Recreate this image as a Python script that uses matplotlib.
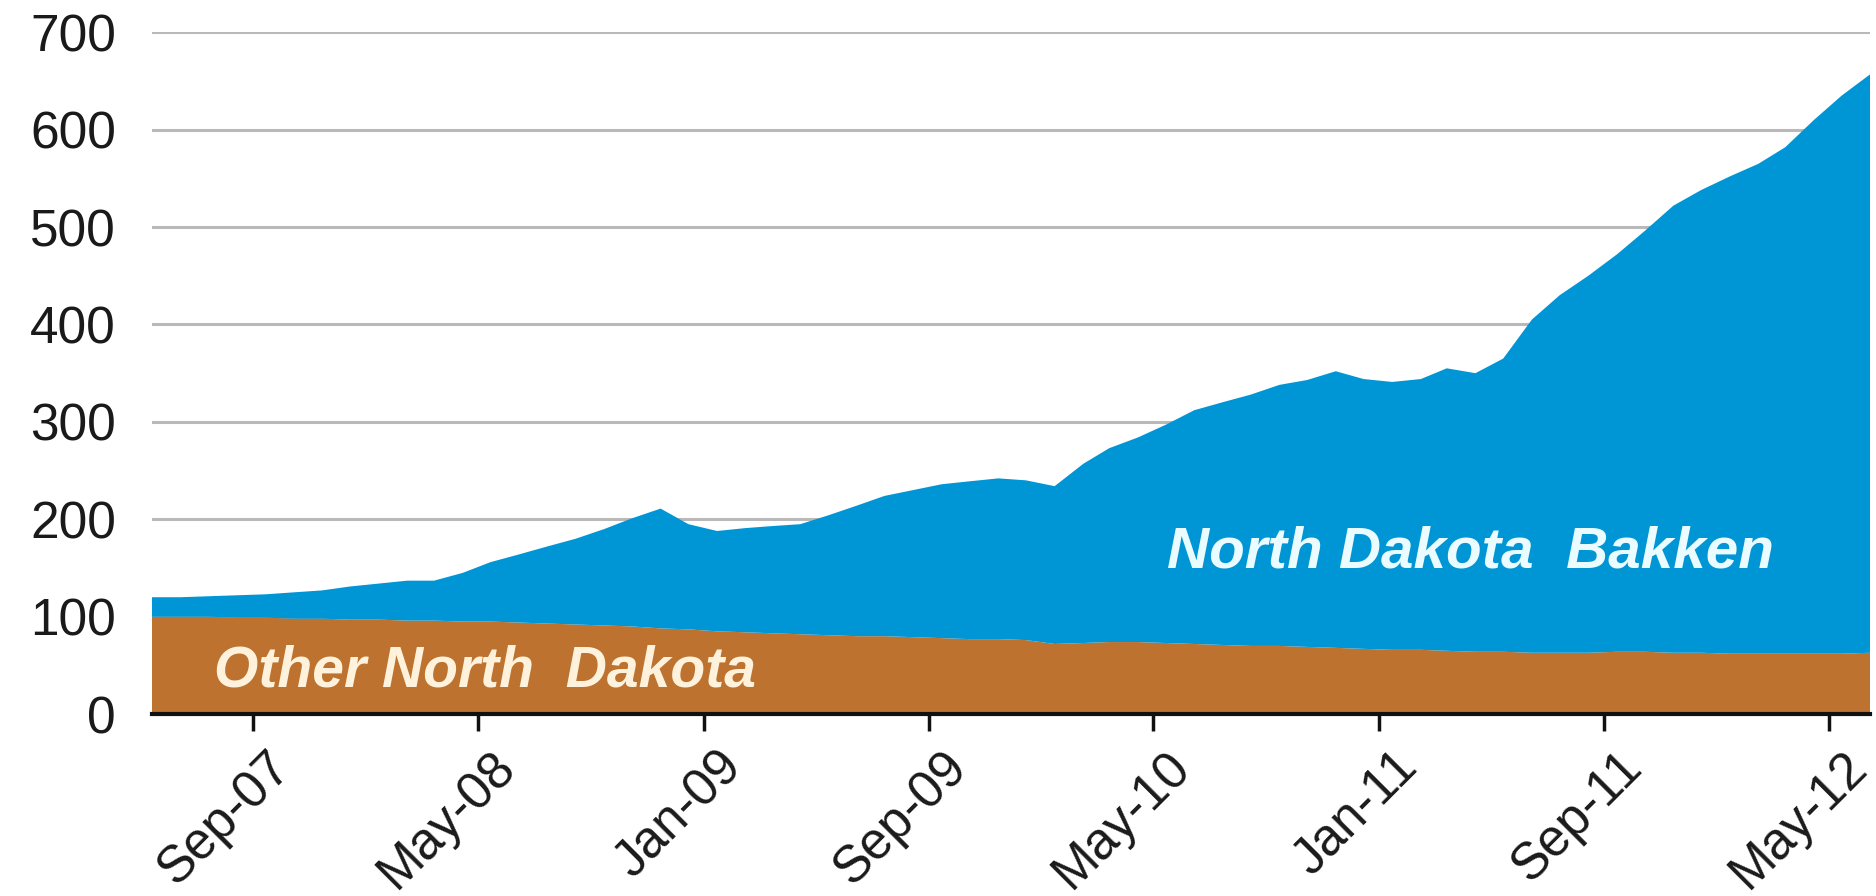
"""
North Dakota crude oil production, stacked area chart
(Other North Dakota vs. North Dakota Bakken), Jun-07 to Jun-12.
"""

import matplotlib
matplotlib.use("Agg")
import matplotlib.pyplot as plt
import matplotlib.transforms as mtransforms
import pandas as pd

# Monthly data (thousand barrels per day)
months = pd.date_range("2007-05-01", periods=62, freq="MS") + pd.Timedelta(days=14)

other_nd = [100, 100, 100, 99, 99, 98, 98, 97, 97, 96,
            96, 95, 95, 94, 93, 92, 91, 90, 88, 87,
            85, 84, 83, 82, 81, 80, 80, 79, 78, 77,
            77, 76, 72, 73, 74, 74, 73, 72, 71, 70,
            70, 69, 68, 67, 66, 66, 65, 64, 64, 63,
            63, 63, 64, 64, 63, 63, 62, 62, 62, 62,
            62, 63]

bakken = [20, 20, 21, 23, 24, 27, 29, 34, 37, 41,
          41, 50, 61, 70, 79, 88, 99, 111, 123, 108,
          103, 107, 110, 113, 123, 134, 144, 151, 158, 162,
          165, 164, 162, 184, 199, 210, 224, 240, 249, 258,
          268, 274, 284, 277, 275, 278, 290, 286, 301, 342,
          367, 387, 408, 432, 459, 475, 490, 503, 520, 548,
          573, 594]

tick_dates = pd.date_range("2007-09-01", "2012-05-01", freq="8MS")
y_ticks = [0, 100, 200, 300, 400, 500, 600, 700]

plt.rcParams["font.family"] = ["Liberation Sans", "DejaVu Sans"]

fig = plt.figure(figsize=(18.76, 8.96), dpi=100)
ax = fig.add_axes([0.081, 0.203, 0.916, 0.761])

# Garis grid di belakang area
ax.set_axisbelow(True)
ax.yaxis.grid(True, color="#b9b9b9", linewidth=2.2)

ax.stackplot(months, other_nd, bakken,
             colors=["#bd732f", "#0096d6"], linewidth=0)

ax.set_xlim(months[0], months[-1])
ax.set_ylim(0, 700)
ax.set_yticks(y_ticks)
ax.set_xticks(tick_dates)
ax.set_xticklabels([d.strftime("%b-%y") for d in tick_dates],
                   rotation=45, ha="right", va="top",
                   rotation_mode="anchor")

ax.tick_params(axis="y", length=0, pad=26, labelsize=37, labelcolor="#1a1a1a")
ax.tick_params(axis="x", length=12, width=2.5, color="#111111", pad=8,
               labelsize=37, labelcolor="#1a1a1a")

# Geser label sumbu x sedikit ke kanan
shift = mtransforms.ScaledTranslation(0.13, 0, fig.dpi_scale_trans)
for lbl in ax.get_xticklabels():
    lbl.set_transform(lbl.get_transform() + shift)

for side in ["left", "right", "top"]:
    ax.spines[side].set_visible(False)
ax.spines["bottom"].set_linewidth(3)
ax.spines["bottom"].set_color("#111111")

# Label seri di dalam area
ax.text(0.767, 0.237, "North Dakota  Bakken", transform=ax.transAxes,
        ha="center", va="center", fontsize=42, fontweight="bold",
        fontstyle="italic", color="#eafcff")
ax.text(0.194, 0.063, "Other North  Dakota", transform=ax.transAxes,
        ha="center", va="center", fontsize=41, fontweight="bold",
        fontstyle="italic", color="#fff2dc")

fig.savefig("out.png", dpi=100, facecolor="white")
